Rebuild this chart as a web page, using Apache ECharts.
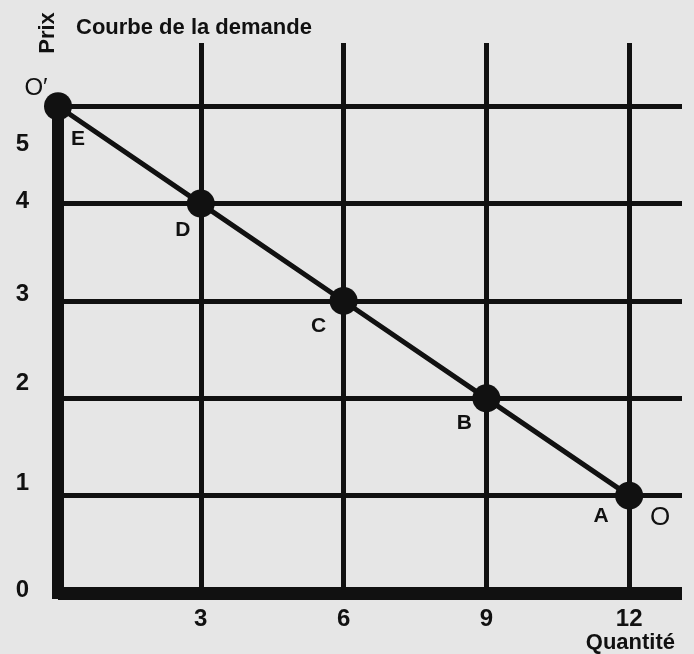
<!DOCTYPE html>
<html>
<head>
<meta charset="utf-8">
<script src="https://cdn.jsdelivr.net/npm/echarts@6/dist/echarts.min.js"></script>
<style>
html,body{margin:0;padding:0;background:#e6e6e6;}
#chart{width:694px;height:654px;}
</style>
</head>
<body>
<div id="chart"></div>
<script>
// ---- data ----
const quantities = [0, 3, 6, 9, 12];
const prices = [5, 4, 3, 2, 1];
const pointNames = ['E', 'D', 'C', 'B', 'A'];
const xTicks = [3, 6, 9, 12];
const yTicks = [0, 1, 2, 3, 4, 5];
const gridX = [3, 6, 9, 12];
const gridY = [1, 2, 3, 4, 5];

// ---- styles ----
const INK = '#111111';
const FONT = 'Liberation Sans, Arial, sans-serif';
const labelOffsets = [[20, 33], [-18, 27], [-25, 25], [-22, 25], [-28, 21]];
const yLabelPad = {0: [0,0,6,0], 1: [0,0,24,0], 2: [0,0,30,0], 3: [0,0,14,0], 4: [0,0,4,0], 5: [76,0,0,0]};

const rich = {};
yTicks.forEach(v => {
  rich['o' + v] = {fontFamily: FONT, fontSize: 24, fontWeight: 'bold', color: INK, padding: yLabelPad[v]};
});

const chart = echarts.init(document.getElementById('chart'));
chart.setOption({
  animation: false,
  backgroundColor: '#e6e6e6',
  grid: {left: 58, right: 12, top: 43, bottom: 61, containLabel: false},
  xAxis: {
    type: 'value', min: 0, max: 13.11, interval: 3,
    axisLine: {show: true, onZero: true, lineStyle: {color: INK, width: 13, cap: 'butt'}},
    axisTick: {show: false},
    splitLine: {show: false},
    axisLabel: {
      margin: 14, fontFamily: FONT, fontSize: 24, fontWeight: 'bold', color: INK,
      showMaxLabel: false,
      formatter: v => xTicks.includes(v) ? String(v) : ''
    }
  },
  yAxis: {
    type: 'value', min: 0, max: 5.65, interval: 1,
    axisLine: {show: false},
    axisTick: {show: false},
    splitLine: {show: false},
    axisLabel: {
      margin: 29, fontFamily: FONT, fontSize: 24, fontWeight: 'bold', color: INK,
      verticalAlign: 'middle',
      showMaxLabel: false,
      formatter: v => yTicks.includes(v) ? '{o' + v + '|' + v + '}' : '',
      rich: rich
    }
  },
  series: [
    {
      type: 'line', data: [], z: 1, silent: true,
      markLine: {
        silent: true, symbol: 'none', animation: false,
        label: {show: false},
        emphasis: {disabled: true},
        lineStyle: {color: INK, width: 5, type: 'solid'},
        data: [
          ...gridX.map(x => ({xAxis: x})),
          ...gridY.map(y => ({yAxis: y})),
          [
            {coord: [quantities[0], 0], lineStyle: {width: 12, color: INK, type: 'solid', cap: 'square'}},
            {coord: [quantities[0], Math.max(...prices)]}
          ]
        ]
      }
    },
    {
      type: 'line', z: 5, silent: true,
      data: quantities.map((q, i) => ({
        value: [q, prices[i]],
        label: {offset: labelOffsets[i]}
      })),
      symbol: 'circle', symbolSize: 28,
      itemStyle: {color: INK},
      lineStyle: {color: INK, width: 5},
      label: {
        show: true, position: 'inside',
        fontFamily: FONT, fontSize: 21, fontWeight: 'bold', color: INK,
        formatter: p => pointNames[p.dataIndex]
      }
    }
  ],
  graphic: [
    {type: 'text', left: 76, top: 17, style: {text: 'Courbe de la demande', font: 'bold 22px ' + FONT, fill: INK}},
    {type: 'text', x: 48, y: 33, rotation: Math.PI / 2, style: {text: 'Prix', font: 'bold 22px ' + FONT, fill: INK, textAlign: 'center', textVerticalAlign: 'middle'}},
    {type: 'text', x: 36, y: 88, style: {text: 'O\u2032', font: '24px ' + FONT, fill: INK, textAlign: 'center', textVerticalAlign: 'middle'}},
    {type: 'text', x: 660, y: 518, style: {text: 'O', font: '26px ' + FONT, fill: INK, textAlign: 'center', textVerticalAlign: 'middle'}},
    {type: 'text', x: 675, y: 643, style: {text: 'Quantité', font: 'bold 22px ' + FONT, fill: INK, textAlign: 'right', textVerticalAlign: 'middle'}}
  ]
});
</script>
</body>
</html>
